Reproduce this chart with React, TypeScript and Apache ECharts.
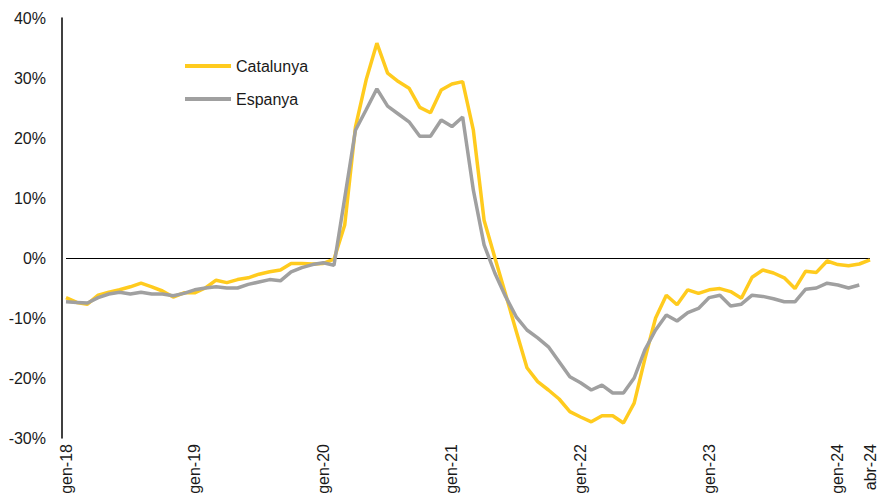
import React, { useEffect, useRef } from "react";
import * as echarts from "echarts";

const monthNames = ["gen", "feb", "mar", "abr", "mai", "jun", "jul", "ago", "set", "oct", "nov", "des"];
const years = ["18", "19", "20", "21", "22", "23", "24"];
const categories: string[] = [];
years.forEach((y) => monthNames.forEach((m) => categories.push(`${m}-${y}`)));
categories.splice(76);

const shownLabels = ["gen-18", "gen-19", "gen-20", "gen-21", "gen-22", "gen-23", "gen-24", "abr-24"];

const catalunya = [
  -6.6, -7.4, -7.7, -6.2, -5.7, -5.3, -4.8, -4.2, -4.8, -5.5, -6.5, -5.8,
  -5.8, -5.0, -3.7, -4.1, -3.6, -3.3, -2.7, -2.3, -2.0, -0.9, -0.9, -1.0,
  -0.9, -0.2, 5.5, 21.8, 29.7, 35.8, 30.8, 29.4, 28.3, 25.1, 24.2, 28.0,
  29.0, 29.4, 21.3, 6.3, 0.1, -6.0, -12.2, -18.3, -20.6, -22.0, -23.5, -25.6,
  -26.5, -27.3, -26.3, -26.3, -27.5, -24.2, -16.8, -10.0, -6.2, -7.8, -5.3, -5.9,
  -5.3, -5.1, -5.6, -6.7, -3.2, -2.0, -2.5, -3.3, -5.1, -2.2, -2.4, -0.5,
  -1.1, -1.3, -1.0, -0.3,
];

const espanya = [
  -7.3, -7.4, -7.5, -6.6, -6.0, -5.7, -6.0, -5.7, -6.0, -6.0, -6.3, -5.9,
  -5.3, -5.0, -4.8, -5.0, -5.0, -4.4, -4.0, -3.6, -3.8, -2.3, -1.6, -1.1,
  -0.8, -1.2, 10.0, 21.3, 24.7, 28.2, 25.3, 24.0, 22.7, 20.3, 20.3, 23.0,
  21.9, 23.5, 11.3, 2.2, -2.5, -6.4, -9.8, -12.0, -13.3, -14.8, -17.3, -19.8,
  -20.8, -22.0, -21.2, -22.5, -22.5, -20.0, -15.3, -12.0, -9.5, -10.5, -9.1, -8.4,
  -6.6, -6.2, -8.0, -7.7, -6.2, -6.4, -6.8, -7.3, -7.3, -5.2, -5.0, -4.2,
  -4.5, -5.0, -4.5,
];

const yMin = -30;
const yMax = 40;
const yStep = 10;

const FONT = "'Liberation Sans', Arial, sans-serif";

export default function App() {
  const ref = useRef<HTMLDivElement>(null);
  useEffect(() => {
    if (!ref.current) return;
    const chart = echarts.init(ref.current, undefined, { renderer: "svg" });
    chart.setOption({
      animation: false,
      backgroundColor: "#ffffff",
      textStyle: { fontFamily: FONT },
      grid: { left: 66, right: 2, top: 18, bottom: 59, containLabel: false },
      legend: {
        orient: "vertical",
        left: 180,
        top: 53,
        itemGap: 17,
        itemWidth: 46,
        itemHeight: 4,
        icon: "rect",
        textStyle: { fontFamily: FONT, fontSize: 16, color: "#1a1a1a" },
        data: ["Catalunya", "Espanya"],
      },
      xAxis: {
        type: "category",
        data: categories,
        boundaryGap: false,
        axisLine: { show: false },
        axisTick: { show: false },
        splitLine: { show: false },
        axisLabel: {
          rotate: 90,
          margin: 6,
          fontSize: 16,
          fontFamily: FONT,
          color: "#1a1a1a",
          interval: (idx: number, val: string) => shownLabels.includes(val),
        },
      },
      yAxis: {
        type: "value",
        min: yMin,
        max: yMax,
        interval: yStep,
        offset: 4,
        axisLine: { show: true, lineStyle: { color: "#000", width: 1.5 } },
        axisTick: { show: false },
        splitLine: { show: false },
        axisLabel: {
          margin: 16,
          fontSize: 16,
          fontFamily: FONT,
          color: "#1a1a1a",
          formatter: (v: number) => `${v}%`,
        },
      },
      series: [
        {
          name: "Catalunya",
          type: "line",
          data: catalunya,
          symbol: "none",
          z: 3,
          lineStyle: { color: "#FFCB1E", width: 3.5 },
          itemStyle: { color: "#FFCB1E" },
          markLine: {
            silent: true,
            symbol: "none",
            label: { show: false },
            lineStyle: { color: "#000", width: 1, type: "solid" },
            data: [{ yAxis: 0 }],
            z: 1,
          },
        },
        {
          name: "Espanya",
          type: "line",
          data: espanya,
          symbol: "none",
          z: 4,
          lineStyle: { color: "#A0A0A0", width: 3.5 },
          itemStyle: { color: "#A0A0A0" },
        },
      ],
    });
    return () => chart.dispose();
  }, []);
  return <div ref={ref} style={{ width: 878, height: 497, position: "absolute", left: 0, top: 0 }} />;
}
